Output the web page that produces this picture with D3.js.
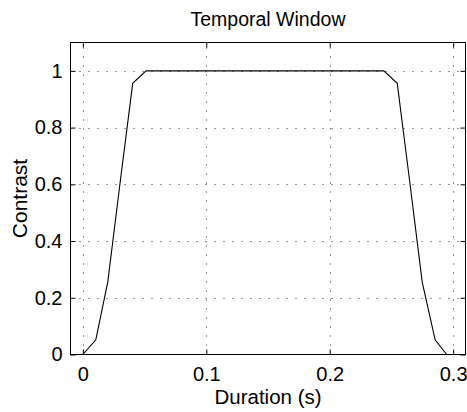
<!DOCTYPE html>
<html>
<head>
<meta charset="utf-8">
<script src="https://cdn.jsdelivr.net/npm/d3@7"></script>
<style>
  html, body { margin: 0; padding: 0; background: #fff; }
  svg { display: block; font-family: "Liberation Sans", Arial, Helvetica, sans-serif; }
</style>
</head>
<body>
<script>
// Data
const durations = [0, 0.0105, 0.0202, 0.0303, 0.0404, 0.0512, 0.2438, 0.2547, 0.2648, 0.2749, 0.2854, 0.2948];
const contrast  = [0, 0.052, 0.256, 0.61, 0.956, 1, 1, 0.956, 0.61, 0.256, 0.052, 0];
const xTicks = [0, 0.1, 0.2, 0.3];
const xTickLabels = ["0", "0.1", "0.2", "0.3"];
const yTicks = [0, 0.2, 0.4, 0.6, 0.8, 1];
const yTickLabels = ["0", "0.2", "0.4", "0.6", "0.8", "1"];
const title = "Temporal Window";
const xLabel = "Duration (s)";
const yLabel = "Contrast";

const W = 467, H = 412;
const svg = d3.select("body").append("svg").attr("width", W).attr("height", H);

const x = d3.scaleLinear().domain([-0.01, 0.31]).range([70.5, 465.5]);
const y = d3.scaleLinear().domain([0, 1.1]).range([354.5, 42.5]);

const [x0, x1] = x.range();
const [yb, yt] = y.range();

// Grid
const grid = svg.append("g").attr("stroke", "#333").attr("stroke-width", 1).attr("stroke-dasharray", "1,8");
grid.selectAll("line.vx").data(xTicks).join("line")
  .attr("x1", d => Math.round(x(d)) + 0.5).attr("x2", d => Math.round(x(d)) + 0.5)
  .attr("y1", yb).attr("y2", yt);
grid.selectAll("line.hy").data(yTicks.filter(d => d > 0)).join("line")
  .attr("y1", d => Math.round(y(d)) + 0.5).attr("y2", d => Math.round(y(d)) + 0.5)
  .attr("x1", x0).attr("x2", x1);

// Axes (ticks inward, box)
const tl = 5;
const xAxisB = d3.axisBottom(x).tickValues(xTicks).tickFormat((d, i) => xTickLabels[i]).tickSizeInner(-tl).tickSizeOuter(0).tickPadding(12);
const xAxisT = d3.axisTop(x).tickValues(xTicks).tickFormat("").tickSizeInner(-tl).tickSizeOuter(0);
const yAxisL = d3.axisLeft(y).tickValues(yTicks).tickFormat((d, i) => yTickLabels[i]).tickSizeInner(-tl).tickSizeOuter(0).tickPadding(8);
const yAxisR = d3.axisRight(y).tickValues(yTicks).tickFormat("").tickSizeInner(-tl).tickSizeOuter(0);

function style(g) {
  g.select(".domain").remove();
  g.selectAll("line").attr("stroke", "#000");
  g.selectAll("text").attr("fill", "#000").attr("font-size", 20);
}
svg.append("g").attr("transform", `translate(0,${yb})`).call(xAxisB).call(style);
svg.append("g").attr("transform", `translate(0,${yt})`).call(xAxisT).call(style);
svg.append("g").attr("transform", `translate(${x0},0)`).call(yAxisL).call(style);
svg.append("g").attr("transform", `translate(${x1},0)`).call(yAxisR).call(style);

// Box
svg.append("rect").attr("x", x0).attr("y", yt).attr("width", x1 - x0).attr("height", yb - yt)
  .attr("fill", "none").attr("stroke", "#000").attr("stroke-width", 1);

// Line
const pts = durations.map((d, i) => [d, contrast[i]]);
svg.append("path").datum(pts)
  .attr("fill", "none").attr("stroke", "#000").attr("stroke-width", 1.1)
  .attr("d", d3.line().x(d => x(d[0])).y(d => y(d[1])));

// Labels
svg.append("text").attr("x", (x0 + x1) / 2).attr("y", 26).attr("text-anchor", "middle")
  .attr("font-size", 19.5).text(title);
svg.append("text").attr("x", (x0 + x1) / 2).attr("y", 404).attr("text-anchor", "middle")
  .attr("font-size", 20.5).text(xLabel);
svg.append("text").attr("transform", `translate(26.5,${(yb + yt) / 2}) rotate(-90)`).attr("text-anchor", "middle")
  .attr("font-size", 21).text(yLabel);
</script>
</body>
</html>
